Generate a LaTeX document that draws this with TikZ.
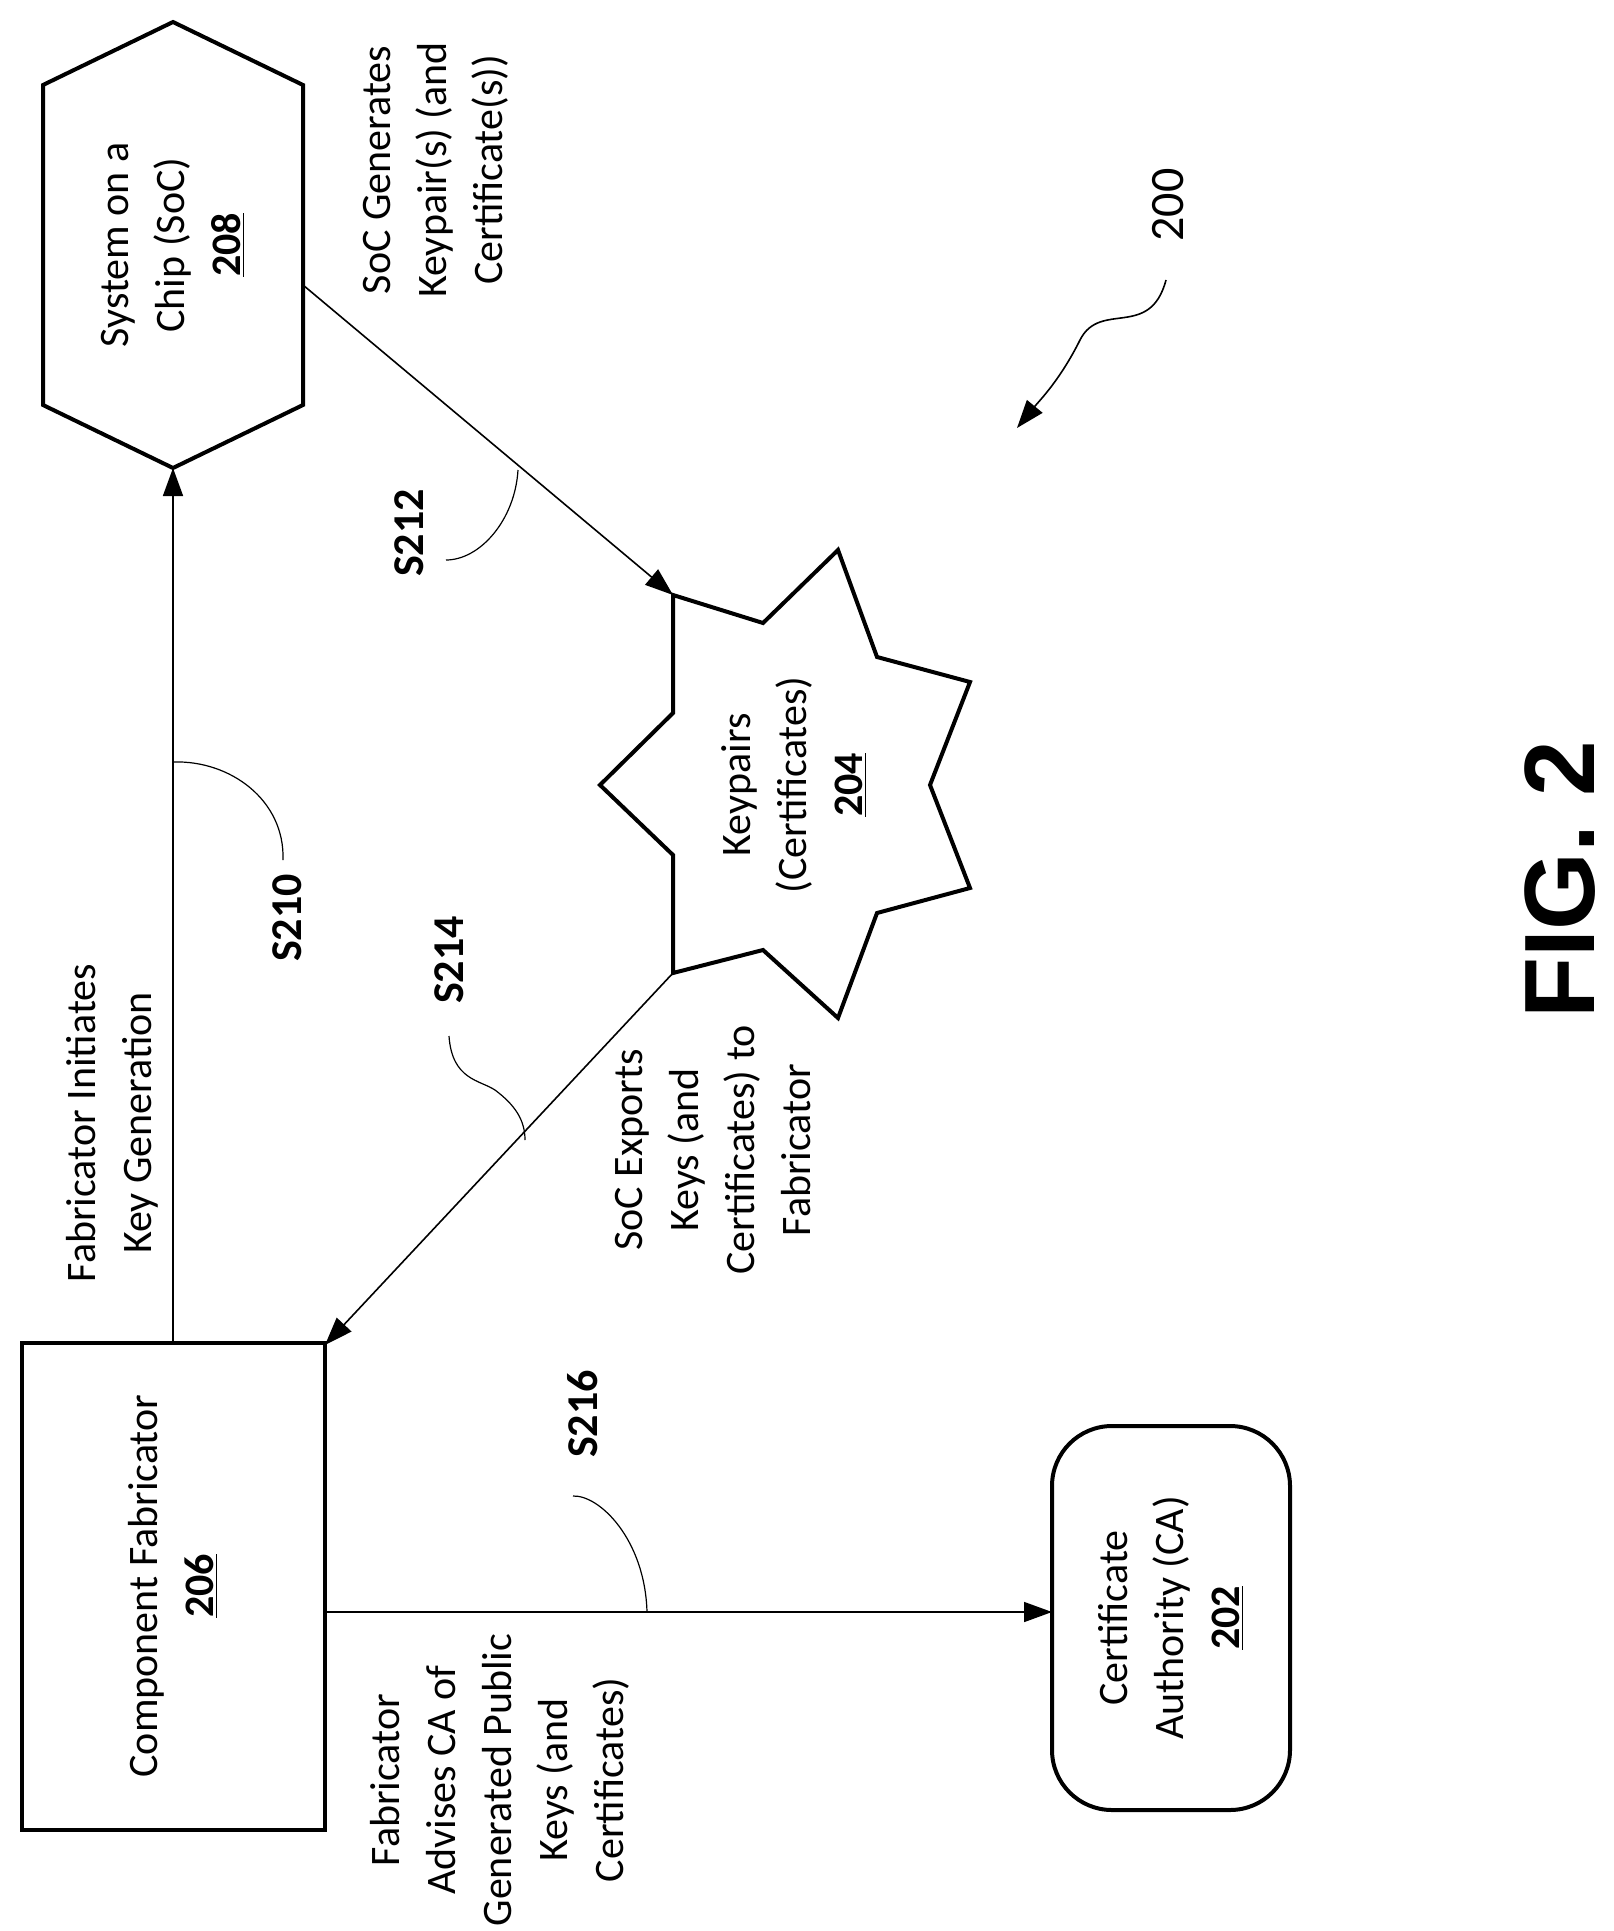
\documentclass[tikz,border=0pt]{standalone}
\usepackage{fontspec}
\setmainfont{Carlito}
\newfontfamily\figfont{Liberation Sans}
\usetikzlibrary{arrows.meta, positioning}

\begin{document}
\begin{tikzpicture}[x=0.5pt, y=-0.5pt,
	every node/.style={font=\fontsize{21}{28}\selectfont, rotate=90, align=center},
	shapeline/.style={line width=2pt, line join=miter},
	conn/.style={line width=0.8pt, -{Triangle[length=14pt, width=10pt]}},
	leader/.style={line width=0.6pt},
	steplabel/.style={font=\fontsize{22}{26}\selectfont\bfseries}]
	\useasboundingbox (0,0) rectangle (1613,1931);
	% Fabricator box and CA
	\draw[shapeline] (22,1343) rectangle (325,1830);
	\node (fab) at (173,1586) {Component Fabricator\\\underline{\textbf{206}}};
	\draw[shapeline, rounded corners=30pt] (1052,1426) rectangle (1290,1810);
	\node (ca) at (1171,1618) {Certificate\\Authority (CA)\\\underline{\textbf{202}}};
	% SoC hexagon
	\draw[shapeline] (43,85) -- (173,22) -- (303,85) -- (303,405) -- (173,468) -- (43,405) -- cycle;
	\node (soc) at (173,245) {System on a\\Chip (SoC)\\\underline{\textbf{208}}};
	% keypair star
	\draw[shapeline] (673,595) -- (763,623) -- (838,550) -- (877,657) -- (970,682) -- (930,785)
		-- (970,888) -- (877,913) -- (838,1018) -- (763,950) -- (673,973) -- (673,855)
		-- (600,785) -- (673,713) -- cycle;
	\node (keys) at (794,785) {Keypairs\\(Certificates)\\\underline{\textbf{204}}};
	% anchor points
	\coordinate (fabtop) at (173,1343);
	\coordinate (fabcorner) at (325,1345);
	\coordinate (fabside) at (325,1612);
	\coordinate (cabside) at (1052,1612);
	\coordinate (socbot) at (173,468);
	\coordinate (socside) at (303,285);
	\coordinate (keystop) at (673,595);
	\coordinate (keysbot) at (673,973);
	% connectors
	\draw[conn] (fabtop) -- (socbot);
	\draw[conn] (socside) -- (keystop);
	\draw[conn] (keysbot) -- (fabcorner);
	\draw[conn] (fabside) -- (cabside);
	% connector texts
	\node (t210) at (112,1123) {Fabricator Initiates\\Key Generation};
	\node (t212) at (436,170) {SoC Generates\\Keypair(s) (and\\Certificate(s))};
	\node (t214) at (713,1150) {SoC Exports\\Keys (and\\Certificates) to\\Fabricator};
	\node (t216) at (500,1780) {Fabricator\\Advises CA of\\Generated Public\\Keys (and\\Certificates)};
	% step labels
	\node[steplabel] (s210) at (287,918) {S210};
	\node[steplabel] (s212) at (409,533) {S212};
	\node[steplabel] (s214) at (449,960) {S214};
	\node[steplabel] (s216) at (583,1414) {S216};
	\draw[leader] (283,860) .. controls (285,800) and (230,760) .. (173,762);
	\draw[leader] (446,560) .. controls (480,560) and (515,520) .. (518,470);
	\draw[leader] (449,1036) .. controls (452,1080) and (480,1080) .. (495,1090)
		.. controls (515,1105) and (525,1120) .. (525,1140);
	\draw[leader] (573,1496) .. controls (600,1495) and (645,1540) .. (647,1612);
	% figure number
	\node[font=\fontsize{24}{28}\selectfont] (ref) at (1168,205) {200};
	\coordinate (refarrow) at (1017,428);
	\draw[line width=0.8pt, -{Triangle[length=14pt, width=10pt]}] (1166,280)
		.. controls (1150,340) and (1100,300) .. (1080,340)
		.. controls (1060,380) and (1040,400) .. (refarrow);
	\node[font=\figfont\fontsize{50}{60}\selectfont\bfseries] (fig) at (1560,880) {FIG. 2};
\end{tikzpicture}
\end{document}
